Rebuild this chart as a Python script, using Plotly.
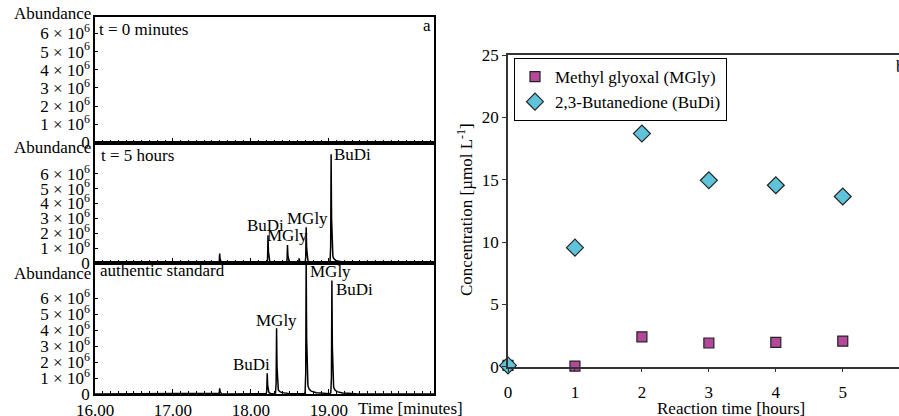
import numpy as np
import plotly.graph_objects as go

# ---------------- data ----------------
# Panel a: chromatogram peaks (retention time [min], abundance)
t0_rt = []
t0_height = []
t5_rt = [17.60, 18.22, 18.47, 18.62, 18.71, 19.03]
t5_height = [0.63e6, 1.86e6, 1.20e6, 0.30e6, 2.40e6, 7.30e6]
std_rt = [17.60, 18.21, 18.33, 18.71, 19.04]
std_height = [0.36e6, 1.30e6, 4.10e6, 8.60e6, 7.10e6]

time_ticks = [16, 17, 18, 19]
time_ticktext = ["16.00", "17.00", "18.00", "19.00"]
abund_ticks = [0, 1e6, 2e6, 3e6, 4e6, 5e6, 6e6]
abund_ticktext = ["0"] + [f"{i} × 10<sup>6</sup>" for i in range(1, 7)]

# Panel b: concentrations [umol/L]
reaction_time = [0, 1, 2, 3, 4, 5]
mgly = [0.10, 0.05, 2.40, 1.90, 1.95, 2.05]
budi = [0.10, 9.55, 18.70, 14.95, 14.55, 13.65]

# ---------------- rendering helpers ----------------
W, H = 899, 416
MT, MB = 17, 22
PH = H - MT - MB

def px(x):
    return x / W

def py(y):
    return (H - MB - y) / PH

# peak profile template (relative shape of a tailing GC peak)
shape_dx = np.array([-0.03, -0.014, -0.006, 0.0, 0.005, 0.012, 0.025, 0.05, 0.10, 0.20, 0.35])
shape_rel = np.array([0.0, 0.01, 0.15, 1.0, 0.45, 0.13, 0.05, 0.025, 0.012, 0.005, 0.0])
grid = np.arange(16.0, 20.36, 0.002)

def chromatogram(rts, heights):
    y = np.zeros_like(grid)
    for rt, h in zip(rts, heights):
        y += np.interp(grid, rt + shape_dx, h * shape_rel, left=0, right=0)
    return y

FONT = "Liberation Serif"
FS = 17

fig = go.Figure()
line = dict(color="black", width=1.5)
fig.add_trace(go.Scatter(x=grid, y=chromatogram(t0_rt, t0_height), mode="lines", line=dict(color="black", width=2),
                         xaxis="x", yaxis="y", showlegend=False))
fig.add_trace(go.Scatter(x=grid, y=chromatogram(t5_rt, t5_height), mode="lines", line=line,
                         xaxis="x2", yaxis="y2", showlegend=False))
fig.add_trace(go.Scatter(x=grid, y=chromatogram(std_rt, std_height), mode="lines", line=line,
                         xaxis="x3", yaxis="y3", showlegend=False))

fig.add_trace(go.Scatter(x=reaction_time, y=mgly, mode="markers", name="Methyl glyoxal (MGly)",
                         marker=dict(symbol="square", size=10, color="#b4499b",
                                     line=dict(color="#222", width=1.2)),
                         xaxis="x4", yaxis="y4", cliponaxis=False))
fig.add_trace(go.Scatter(x=reaction_time, y=budi, mode="markers", name="2,3-Butanedione (BuDi)",
                         marker=dict(symbol="diamond", size=13, color="#5fc3d9",
                                     line=dict(color="#222", width=1.2)),
                         xaxis="x4", yaxis="y4", cliponaxis=False))

left_dom = [px(95), px(434)]
y_doms = [[py(142.5), 1.0], [py(263), py(142.5)], [0.0, py(263)]]
y_ranges = [[0, 6.9e6], [0, 8.1e6], [0, 8.2e6]]

layout = dict(
    width=W, height=H,
    margin=dict(l=0, r=0, t=MT, b=MB),
    paper_bgcolor="white", plot_bgcolor="white",
    font=dict(family=FONT, size=FS, color="black"),
    showlegend=True,
    legend=dict(x=px(514), y=py(58), xanchor="left", yanchor="top",
                bordercolor="black", borderwidth=1, bgcolor="white",
                font=dict(family=FONT, size=FS), tracegroupgap=0),
)

for i in range(3):
    xs = "xaxis" if i == 0 else f"xaxis{i+1}"
    ys = "yaxis" if i == 0 else f"yaxis{i+1}"
    yname = "y" if i == 0 else f"y{i+1}"
    xname = "x" if i == 0 else f"x{i+1}"
    layout[xs] = dict(domain=left_dom, anchor=yname, range=[16, 20.35],
                      tickvals=time_ticks, ticktext=time_ticktext,
                      showticklabels=(i == 2), ticks="inside", ticklen=5, tickcolor="black",
                      minor=dict(dtick=0.1, ticks="inside", ticklen=3, tickcolor="black"),
                      showline=True, linecolor="black", linewidth=1.5, mirror=True,
                      showgrid=False, zeroline=False, automargin=False,
                      tickfont=dict(family=FONT, size=FS))
    layout[ys] = dict(domain=y_doms[i], anchor=xname, range=y_ranges[i],
                      tickvals=abund_ticks, ticktext=abund_ticktext,
                      ticks="inside", ticklen=3, tickcolor="black",
                      showline=True, linecolor="black", linewidth=1.5, mirror=True,
                      showgrid=False, zeroline=False, automargin=False,
                      tickfont=dict(family=FONT, size=FS))

layout["xaxis4"] = dict(domain=[px(508), 1.0], anchor="y4", range=[0, 5.84],
                        tickvals=reaction_time, ticks="outside", ticklen=4, tickcolor="#333",
                        ticklabelstandoff=5,
                        showline=True, linecolor="#333", linewidth=1.5, mirror=True,
                        showgrid=False, zeroline=False, automargin=False,
                        tickfont=dict(family=FONT, size=FS))
layout["yaxis4"] = dict(domain=[py(366.7), py(55)], anchor="x4", range=[0, 25],
                        tickvals=[0, 5, 10, 15, 20, 25], ticks="outside", ticklen=4, tickcolor="#333",
                        showline=True, linecolor="#333", linewidth=1.5, mirror=False,
                        showgrid=False, zeroline=False, automargin=False,
                        tickfont=dict(family=FONT, size=FS))
fig.update_layout(**layout)

ann = []
def pa(text, x, y, xanchor="left", yanchor="middle", **kw):
    ann.append(dict(text=text, x=px(x), y=py(y), xref="paper", yref="paper",
                    xanchor=xanchor, yanchor=yanchor, showarrow=False,
                    font=dict(family=FONT, size=FS, color="black"), **kw))

for yy in [13, 148, 273]:
    pa("Abundance", 93, yy, xanchor="right")
pa("t = 0 minutes", 97, 29)
pa("t = 5 hours", 99, 155)
pa("authentic standard", 98, 270)
pa("a", 433, 26, xanchor="right")
pa("Time [minutes]", 356, 408)
pa("Reaction time [hours]", 731, 408, xanchor="center")
pa("Concentration [µmol L<sup>-1</sup>]", 465, 210, xanchor="center", textangle=-90)
pa("b", 894, 66)

def da(text, x, y, xr, yr, xanchor, yanchor, xshift=0, yshift=0):
    ann.append(dict(text=text, x=x, y=y, xref=xr, yref=yr, xanchor=xanchor, yanchor=yanchor,
                    xshift=xshift, yshift=yshift, showarrow=False,
                    font=dict(family=FONT, size=FS, color="black")))

# t = 5 hours labels
da("BuDi", t5_rt[5], t5_height[5], "x2", "y2", "left", "middle", 1, 0)
da("BuDi", t5_rt[1], t5_height[1], "x2", "y2", "center", "bottom", -3, -2)
da("MGly", t5_rt[2], t5_height[2], "x2", "y2", "center", "bottom", 0, -2)
da("MGly", t5_rt[4], t5_height[4], "x2", "y2", "center", "bottom", 1, -3)
# authentic standard labels
da("MGly", std_rt[3], 1, "x3", "y3 domain", "left", "top", 2, 3)
da("BuDi", std_rt[4], std_height[4], "x3", "y3", "left", "top", 2, 3)
da("MGly", std_rt[2], std_height[2], "x3", "y3", "center", "bottom", 0, -3)
da("BuDi", std_rt[1], std_height[1], "x3", "y3", "right", "bottom", 5, -3)

fig.update_layout(annotations=ann)
fig.write_html("out.html", config={"displayModeBar": False},
               post_script="document.body.style.margin='0';document.body.style.overflow='hidden';")
